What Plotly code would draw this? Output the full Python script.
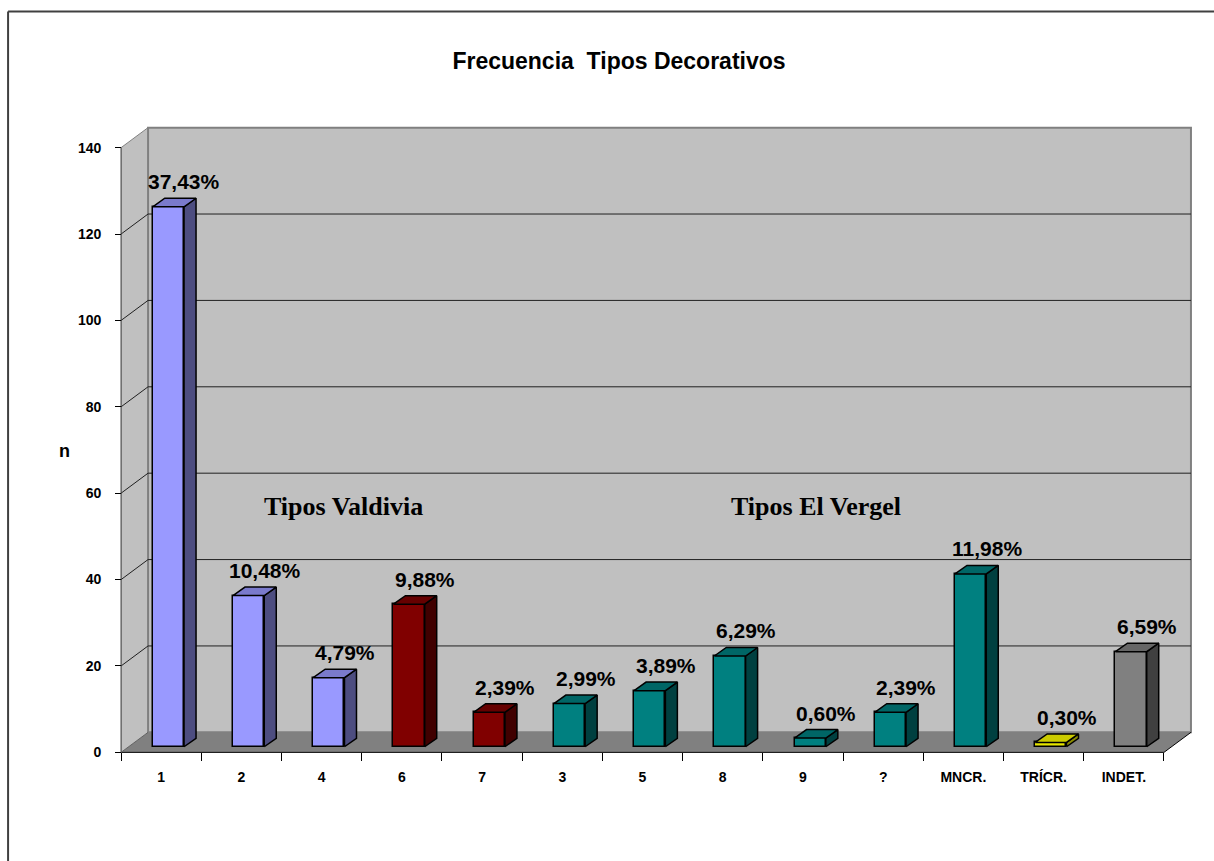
import plotly.graph_objects as go

# ---- data -------------------------------------------------------------
categories = ["1", "2", "4", "6", "7", "3", "5", "8", "9", "?", "MNCR.", "TRÍCR.", "INDET."]
percent = [37.43, 10.48, 4.79, 9.88, 2.39, 2.99, 3.89, 6.29, 0.60, 2.39, 11.98, 0.30, 6.59]
n_total = 334
series_group = ["valdivia_a", "valdivia_a", "valdivia_a", "valdivia_b", "valdivia_b",
                "vergel", "vergel", "vergel", "vergel", "vergel", "vergel",
                "tricr", "indet"]
y_tick_values = [0, 20, 40, 60, 80, 100, 120, 140]
group_titles = ["Tipos Valdivia", "Tipos El Vergel"]

# colours per group: front, side, top
palette = {
    "valdivia_a": ("#9999FF", "#4D4D80", "#7A7ACC"),
    "valdivia_b": ("#800000", "#400000", "#660000"),
    "vergel": ("#008080", "#004040", "#006666"),
    "tricr": ("#E6E600", "#8A8A00", "#CCCC00"),
    "indet": ("#808080", "#404040", "#666666"),
}

counts = [p / 100.0 * n_total for p in percent]
labels = [f"{p:.2f}".replace(".", ",") + "%" for p in percent]

# ---- geometry of the pseudo-3D box -------------------------------------
W, H = 1214, 861
ORIGIN_X, ORIGIN_Y = 121, 752          # pixel position of (0, 0)
PPX = 80.23                             # pixels per category
PPY = 604.0 / 140.0                     # pixels per count unit
DXW, DYW = 27 / PPX, 20 / PPY           # wall depth
DXB, DYB = 12 / PPX, 8.5 / PPY          # column depth
BASE = 1.3                              # column base sits inside the floor
NCAT = len(categories)

XMIN, XMAX = -0.3, NCAT + DXW + 0.2
YMIN, YMAX = -2.0, 140 + DYW + 2.0
L = ORIGIN_X + XMIN * PPX
R = W - (ORIGIN_X + XMAX * PPX)
T = ORIGIN_Y - YMAX * PPY
B = H - (ORIGIN_Y - YMIN * PPY)
PW, PH = W - L - R, H - T - B


def px_to_paper(px, py):
    return (px - L) / PW, (H - B - py) / PH


def path(points):
    return "M " + " L ".join(f"{x},{y}" for x, y in points) + " Z"


shapes = []
# floor
shapes.append(dict(type="path", xref="x", yref="y", layer="below",
                   path=path([(0, 0), (DXW, DYW), (NCAT + DXW, DYW), (NCAT, 0)]),
                   fillcolor="#808080", line=dict(width=0)))
# side wall
shapes.append(dict(type="path", xref="x", yref="y", layer="below",
                   path=path([(0, 0), (DXW, DYW), (DXW, 140 + DYW), (0, 140)]),
                   fillcolor="#C0C0C0", line=dict(width=0)))
# back wall
shapes.append(dict(type="rect", xref="x", yref="y", layer="below",
                   x0=DXW, y0=DYW, x1=NCAT + DXW, y1=140 + DYW,
                   fillcolor="#C0C0C0", line=dict(color="#808080", width=2)))
# gridlines on back and side walls
for v in y_tick_values[1:-1]:
    shapes.append(dict(type="line", xref="x", yref="y", layer="below",
                       x0=DXW, y0=v + DYW, x1=NCAT + DXW, y1=v + DYW,
                       line=dict(color="#202020", width=1)))
    shapes.append(dict(type="line", xref="x", yref="y", layer="below",
                       x0=0, y0=v, x1=DXW, y1=v + DYW,
                       line=dict(color="#202020", width=1)))
shapes.append(dict(type="line", xref="x", yref="y", layer="below",
                   x0=0, y0=140, x1=DXW, y1=140 + DYW,
                   line=dict(color="#808080", width=1)))
# box edges
shapes.append(dict(type="line", xref="x", yref="y", layer="below",
                   x0=0, y0=0, x1=0, y1=140, line=dict(color="#303030", width=1)))
shapes.append(dict(type="line", xref="x", yref="y", layer="below",
                   x0=0, y0=0, x1=NCAT, y1=0, line=dict(color="black", width=1)))
shapes.append(dict(type="line", xref="x", yref="y", layer="below",
                   x0=NCAT, y0=0, x1=NCAT + DXW, y1=DYW, line=dict(color="black", width=1)))
shapes.append(dict(type="line", xref="x", yref="y", layer="below",
                   x0=0, y0=0, x1=DXW, y1=DYW, line=dict(color="#606060", width=1)))

# outer chart frame (left and top edges)
fx0, fy0 = px_to_paper(8, 870)
fx1, fy1 = px_to_paper(8, 12)
fx2, _ = px_to_paper(1230, 12)
shapes.append(dict(type="line", xref="paper", yref="paper",
                   x0=fx0, y0=fy0, x1=fx1, y1=fy1, line=dict(color="#404040", width=2)))
shapes.append(dict(type="line", xref="paper", yref="paper",
                   x0=fx1, y0=fy1, x1=fx2, y1=fy1, line=dict(color="#404040", width=2)))

fig = go.Figure()

centers = [i + 0.59 for i in range(NCAT)]
bar_w = 0.39
fronts = [palette[g][0] for g in series_group]

# front faces of the columns
fig.add_trace(go.Bar(x=centers, y=counts, base=BASE, width=bar_w,
                     marker=dict(color=fronts, line=dict(color="black", width=1.5)),
                     hoverinfo="skip", showlegend=False))

# side and top faces
for c, h, g in zip(centers, counts, series_group):
    _, side, top = palette[g]
    x0, x1 = c - bar_w / 2, c + bar_w / 2
    y0, y1 = BASE, BASE + h
    fig.add_trace(go.Scatter(
        x=[x1, x1 + DXB, x1 + DXB, x1, x1],
        y=[y0, y0 + DYB, y1 + DYB, y1, y0],
        mode="lines", fill="toself", fillcolor=side,
        line=dict(color="black", width=1.5), hoverinfo="skip", showlegend=False))
    fig.add_trace(go.Scatter(
        x=[x0, x0 + DXB, x1 + DXB, x1, x0],
        y=[y1, y1 + DYB, y1 + DYB, y1, y1],
        mode="lines", fill="toself", fillcolor=top,
        line=dict(color="black", width=1.5), hoverinfo="skip", showlegend=False))

annotations = []
for c, h, lab in zip(centers, counts, labels):
    annotations.append(dict(x=c + 0.2, y=BASE + h + DYB, xref="x", yref="y",
                            text=lab, showarrow=False, yanchor="bottom", yshift=3,
                            font=dict(family="Liberation Sans, Arial", size=21,
                                      color="black", weight="bold")))

for title, (gx, gy) in zip(group_titles, [(2.77, 57), (8.66, 57)]):
    annotations.append(dict(x=gx, y=gy, xref="x", yref="y", text=title,
                            showarrow=False,
                            font=dict(family="Liberation Serif, Times New Roman",
                                      size=26, color="black", weight="bold")))

nx, ny = px_to_paper(57, 451)
annotations.append(dict(x=nx, y=ny, xref="paper", yref="paper", text="n",
                        showarrow=False,
                        font=dict(family="Liberation Sans, Arial", size=18,
                                  color="black", weight="bold")))

y_axis_pos = (ORIGIN_X - L) / PW
x_axis_pos = (H - B - ORIGIN_Y) / PH

fig.update_layout(
    width=W, height=H,
    margin=dict(l=L, r=R, t=T, b=B, autoexpand=False),
    paper_bgcolor="white", plot_bgcolor="rgba(0,0,0,0)",
    title=dict(text="Frecuencia  Tipos Decorativos", x=619 / W, y=1 - 61 / H,
               xref="container", yref="container", xanchor="center", yanchor="middle",
               font=dict(family="Liberation Sans, Arial", size=23, color="black",
                         weight="bold")),
    xaxis=dict(range=[XMIN, XMAX], anchor="free", position=x_axis_pos,
               tickmode="array", tickvals=[i + 0.5 for i in range(NCAT)],
               ticktext=categories, ticks="", ticklabelstandoff=15,
               tickfont=dict(family="Liberation Sans, Arial", size=14, color="black",
                             weight="bold"),
               minor=dict(tickmode="array", tickvals=list(range(NCAT + 1)),
                          ticks="outside", ticklen=8, tickcolor="black", tickwidth=1,
                          showgrid=False),
               showgrid=False, zeroline=False, showline=False, fixedrange=True),
    yaxis=dict(range=[YMIN, YMAX], anchor="free", position=y_axis_pos,
               tickmode="array", tickvals=y_tick_values,
               ticks="outside", ticklen=6, tickcolor="black", tickwidth=1,
               ticklabelstandoff=11,
               tickfont=dict(family="Liberation Sans, Arial", size=14, color="black",
                             weight="bold"),
               showgrid=False, zeroline=False, showline=False, fixedrange=True),
    shapes=shapes, annotations=annotations,
    bargap=0,
)

fig.write_html("out.html", config={"displayModeBar": False})
